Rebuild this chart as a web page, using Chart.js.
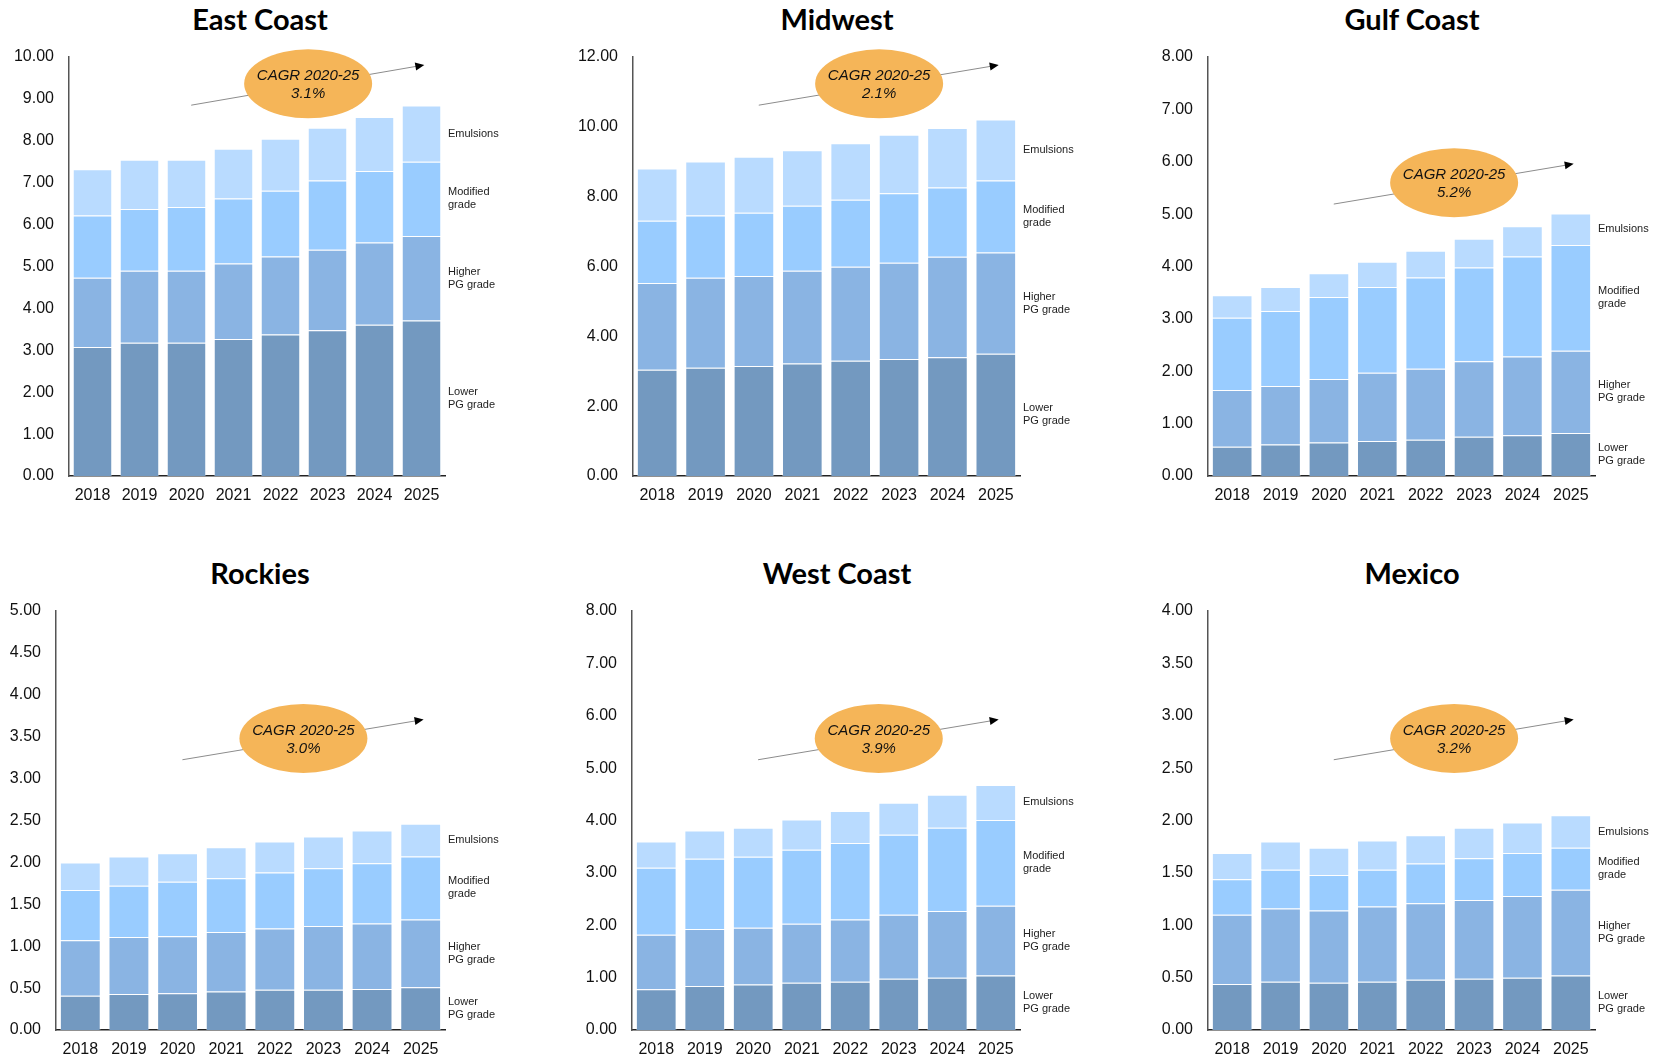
<!DOCTYPE html>
<html>
<head>
<meta charset="utf-8">
<script src="https://cdn.jsdelivr.net/npm/chart.js@4.4.1/dist/chart.umd.min.js"></script>
<style>
  body { margin: 0; background: #fff; width: 1661px; height: 1060px; overflow: hidden; position: relative; }
  canvas { position: absolute; }
  .title { position: absolute; width: 300px; text-align: center; font: bold 29px Lato, "Open Sans", sans-serif; color: #000; line-height: 34px; }
</style>
</head>
<body>
<div class="title" style="left:110px;top:2px">East Coast</div>
<div class="title" style="left:687px;top:2px">Midwest</div>
<div class="title" style="left:1262px;top:2px">Gulf Coast</div>
<div class="title" style="left:110px;top:556px">Rockies</div>
<div class="title" style="left:687px;top:556px">West Coast</div>
<div class="title" style="left:1262px;top:556px">Mexico</div>

<canvas id="eastCoast" width="520" height="520" style="left:0;top:0"></canvas>
<canvas id="midwest" width="564" height="520" style="left:555px;top:0"></canvas>
<canvas id="gulfCoast" width="503" height="520" style="left:1158px;top:0"></canvas>
<canvas id="rockies" width="520" height="530" style="left:0;top:530px"></canvas>
<canvas id="westCoast" width="564" height="530" style="left:555px;top:530px"></canvas>
<canvas id="mexico" width="503" height="530" style="left:1158px;top:530px"></canvas>

<script>
// ---- data ----
var years = ['2018', '2019', '2020', '2021', '2022', '2023', '2024', '2025'];
var seriesNames = ['Lower PG grade', 'Higher PG grade', 'Modified grade', 'Emulsions'];
var seriesLabelLines = [['Lower', 'PG grade'], ['Higher', 'PG grade'], ['Modified', 'grade'], ['Emulsions']];
var seriesColors = ['#7399C0', '#8AB4E3', '#99CCFF', '#B9DBFF'];

var eastCoastLower     = [3.08, 3.18, 3.18, 3.27, 3.38, 3.48, 3.61, 3.71];
var eastCoastHigher    = [1.65, 1.72, 1.72, 1.80, 1.86, 1.92, 1.96, 2.02];
var eastCoastModified  = [1.49, 1.47, 1.52, 1.55, 1.57, 1.65, 1.71, 1.77];
var eastCoastEmulsions = [1.10, 1.18, 1.13, 1.19, 1.24, 1.26, 1.29, 1.34];

var midwestLower     = [3.04, 3.10, 3.15, 3.22, 3.30, 3.35, 3.40, 3.50];
var midwestHigher    = [2.49, 2.58, 2.58, 2.66, 2.69, 2.76, 2.88, 2.90];
var midwestModified  = [1.78, 1.78, 1.81, 1.86, 1.92, 1.99, 1.98, 2.06];
var midwestEmulsions = [1.50, 1.55, 1.60, 1.59, 1.62, 1.67, 1.71, 1.75];

var gulfCoastLower     = [0.56, 0.60, 0.64, 0.67, 0.69, 0.75, 0.78, 0.82];
var gulfCoastHigher    = [1.08, 1.12, 1.21, 1.30, 1.36, 1.44, 1.50, 1.57];
var gulfCoastModified  = [1.38, 1.43, 1.57, 1.64, 1.74, 1.79, 1.91, 2.02];
var gulfCoastEmulsions = [0.43, 0.46, 0.45, 0.48, 0.51, 0.55, 0.58, 0.60];

var rockiesLower     = [0.41, 0.43, 0.44, 0.46, 0.48, 0.48, 0.49, 0.51];
var rockiesHigher    = [0.66, 0.68, 0.68, 0.71, 0.73, 0.76, 0.78, 0.81];
var rockiesModified  = [0.60, 0.61, 0.65, 0.64, 0.67, 0.69, 0.72, 0.75];
var rockiesEmulsions = [0.33, 0.35, 0.34, 0.37, 0.37, 0.38, 0.39, 0.39];

var westCoastLower     = [0.78, 0.84, 0.87, 0.90, 0.92, 0.98, 1.00, 1.04];
var westCoastHigher    = [1.04, 1.09, 1.08, 1.13, 1.19, 1.22, 1.27, 1.33];
var westCoastModified  = [1.28, 1.34, 1.36, 1.41, 1.46, 1.53, 1.59, 1.64];
var westCoastEmulsions = [0.50, 0.54, 0.55, 0.58, 0.61, 0.61, 0.63, 0.67];

var mexicoLower     = [0.44, 0.46, 0.45, 0.46, 0.48, 0.49, 0.50, 0.52];
var mexicoHigher    = [0.66, 0.70, 0.69, 0.72, 0.73, 0.75, 0.78, 0.82];
var mexicoModified  = [0.34, 0.37, 0.34, 0.35, 0.38, 0.40, 0.41, 0.40];
var mexicoEmulsions = [0.25, 0.27, 0.26, 0.28, 0.27, 0.29, 0.29, 0.31];

var axisMax  = [10, 12, 8, 5, 8, 4];
var axisStep = [1, 2, 1, 0.5, 1, 0.5];
var cagrText = ['3.1%', '2.1%', '5.2%', '3.0%', '3.9%', '3.2%'];

// ---- layout per panel (pixels) ----
var panels = [
  { id: 'eastCoast', series: [eastCoastLower, eastCoastHigher, eastCoastModified, eastCoastEmulsions], yWidth: 69, padRight: 75, row: 0, cagrY: 0.064 },
  { id: 'midwest',   series: [midwestLower, midwestHigher, midwestModified, midwestEmulsions],         yWidth: 78, padRight: 99, row: 0, cagrY: 0.064 },
  { id: 'gulfCoast', series: [gulfCoastLower, gulfCoastHigher, gulfCoastModified, gulfCoastEmulsions], yWidth: 50, padRight: 66, row: 0, cagrY: 0.30 },
  { id: 'rockies',   series: [rockiesLower, rockiesHigher, rockiesModified, rockiesEmulsions],         yWidth: 56, padRight: 75, row: 1, cagrY: 0.304 },
  { id: 'westCoast', series: [westCoastLower, westCoastHigher, westCoastModified, westCoastEmulsions], yWidth: 77, padRight: 99, row: 1, cagrY: 0.304 },
  { id: 'mexico',    series: [mexicoLower, mexicoHigher, mexicoModified, mexicoEmulsions],             yWidth: 50, padRight: 66, row: 1, cagrY: 0.304 }
];

// series names written beside the last bar
var sideLabels = {
  id: 'sideLabels',
  afterDatasetsDraw: function(chart) {
    var ctx = chart.ctx;
    ctx.save();
    ctx.font = '11px "Liberation Sans", Arial, sans-serif';
    ctx.fillStyle = '#222';
    ctx.textBaseline = 'middle';
    ctx.textAlign = 'left';
    for (var d = 0; d < chart.data.datasets.length; d++) {
      var meta = chart.getDatasetMeta(d);
      var bar = meta.data[meta.data.length - 1];
      var mid = (bar.y + bar.base) / 2;
      var lines = seriesLabelLines[d];
      var x = chart.chartArea.right + 3;
      for (var i = 0; i < lines.length; i++) {
        ctx.fillText(lines[i], x, mid + (i - (lines.length - 1) / 2) * 13);
      }
    }
    ctx.restore();
  }
};

// CAGR bubble with trend arrow
var cagrBubble = {
  id: 'cagrBubble',
  afterDraw: function(chart, args, opts) {
    var a = chart.chartArea;
    var w = a.right - a.left, h = a.bottom - a.top;
    var ctx = chart.ctx;
    var cy = opts.y;
    var x1 = a.left + 0.325 * w, y1 = a.top + (cy + 0.051) * h;
    var x2 = a.left + 0.945 * w, y2 = a.top + (cy - 0.045) * h;
    ctx.save();
    ctx.strokeStyle = '#8c8c8c';
    ctx.lineWidth = 1;
    ctx.beginPath();
    ctx.moveTo(x1, y1);
    ctx.lineTo(x2 - 4, y2 + 0.7);
    ctx.stroke();
    var ang = Math.atan2(y2 - y1, x2 - x1);
    ctx.fillStyle = '#000';
    ctx.beginPath();
    ctx.moveTo(x2, y2);
    ctx.lineTo(x2 - 9 * Math.cos(ang) + 4 * Math.sin(ang), y2 - 9 * Math.sin(ang) - 4 * Math.cos(ang));
    ctx.lineTo(x2 - 9 * Math.cos(ang) - 4 * Math.sin(ang), y2 - 9 * Math.sin(ang) + 4 * Math.cos(ang));
    ctx.closePath();
    ctx.fill();
    var ex = a.left + 0.636 * w, ey = a.top + cy * h;
    ctx.fillStyle = '#F5B558';
    ctx.beginPath();
    ctx.ellipse(ex, ey, 64, 34.5, 0, 0, Math.PI * 2);
    ctx.fill();
    ctx.fillStyle = '#111';
    ctx.font = 'italic 15px "Liberation Sans", Arial, sans-serif';
    ctx.textAlign = 'center';
    ctx.textBaseline = 'middle';
    ctx.fillText('CAGR 2020-25', ex, ey - 8);
    ctx.fillText(opts.text, ex, ey + 10);
    ctx.restore();
  }
};

// build the six charts
for (var p = 0; p < panels.length; p++) {
  var panel = panels[p];
  var datasets = [];
  for (var s = 0; s < seriesNames.length; s++) {
    datasets.push({
      label: seriesNames[s],
      data: panel.series[s],
      backgroundColor: seriesColors[s],
      borderColor: 'rgba(255,255,255,0.35)',
      borderWidth: 1,
      barPercentage: 0.84,
      categoryPercentage: 1.0
    });
  }
  var yW = panel.yWidth;
  var xH = panel.row === 0 ? 44 : 30;
  new Chart(document.getElementById(panel.id), {
    type: 'bar',
    data: { labels: years, datasets: datasets },
    options: {
      responsive: false,
      animation: false,
      layout: { padding: { left: 0, right: panel.padRight, top: panel.row === 0 ? 57 : 81, bottom: 0 } },
      plugins: {
        legend: { display: false },
        tooltip: { enabled: false },
        title: { display: false },
        cagrBubble: { text: cagrText[p], y: panel.cagrY }
      },
      scales: {
        x: {
          stacked: true,
          grid: { display: false, drawTicks: false },
          border: { display: true, color: '#222', width: 1.5 },
          ticks: { color: '#111', padding: 10, font: { family: '"Liberation Sans", Arial, sans-serif', size: 16 } },
          afterFit: (function(h) { return function(scale) { scale.height = h; }; })(xH)
        },
        y: {
          stacked: true,
          min: 0,
          max: axisMax[p],
          grid: { display: false, drawTicks: false },
          border: { display: true, color: '#555', width: 1.5 },
          ticks: {
            stepSize: axisStep[p],
            color: '#111',
            padding: 15,
            font: { family: '"Liberation Sans", Arial, sans-serif', size: 16 },
            callback: function(v) { return v.toFixed(2); }
          },
          afterFit: (function(w) { return function(scale) { scale.width = w; }; })(yW)
        }
      }
    },
    plugins: [sideLabels, cagrBubble]
  });
}
</script>
</body>
</html>
